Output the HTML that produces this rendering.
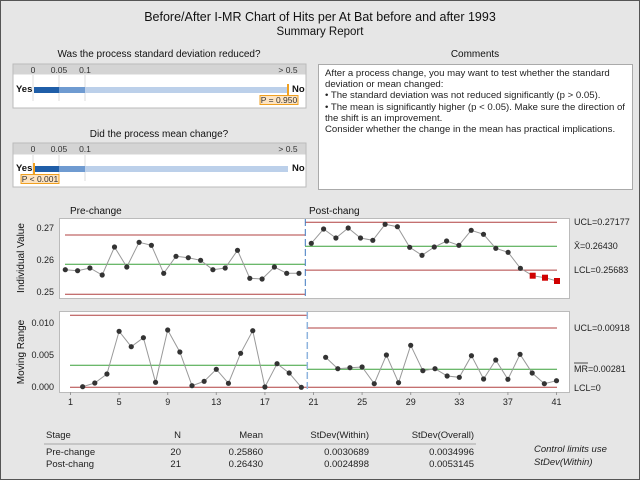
<!DOCTYPE html>
<html><head><meta charset="utf-8"><style>
html,body{margin:0;padding:0;background:#e6e6e6}
svg{display:block;font-family:"Liberation Sans",sans-serif}
</style></head><body>
<svg width="640" height="480" viewBox="0 0 640 480" xmlns="http://www.w3.org/2000/svg">
<rect x="0" y="0" width="640" height="480" fill="#e6e6e6"/>
<rect x="0.5" y="0.5" width="639" height="479" fill="none" stroke="#555" stroke-width="1"/>
<text x="320" y="21" font-size="12.5" text-anchor="middle" fill="#111">Before/After I-MR Chart of Hits per At Bat before and after 1993</text>
<text x="320" y="35" font-size="11.5" text-anchor="middle" fill="#111">Summary Report</text>

<!-- Panel 1 -->
<text x="159" y="57" font-size="10" text-anchor="middle" fill="#111">Was the process standard deviation reduced?</text>
<rect x="13" y="64" width="293" height="44" fill="#fff" stroke="#bbb"/>
<rect x="13.5" y="64.5" width="292" height="10" fill="#d4d4d4"/>
<g font-size="8.5" fill="#333" text-anchor="middle"><text x="33" y="73">0</text><text x="59" y="73">0.05</text><text x="85" y="73">0.1</text><text x="288" y="73">&gt; 0.5</text></g>
<g stroke="#ddd"><line x1="33" y1="75" x2="33" y2="101"/><line x1="59" y1="75" x2="59" y2="101"/><line x1="85" y1="75" x2="85" y2="101"/></g>
<rect x="34" y="87" width="25" height="6" fill="#1f5ea8"/>
<rect x="59" y="87" width="26" height="6" fill="#6f9bd1"/>
<rect x="85" y="87" width="203" height="6" fill="#bcd0ea"/>
<line x1="288" y1="84" x2="288" y2="95" stroke="#f0a020" stroke-width="2"/>
<text x="16" y="92" font-size="9.5" font-weight="bold" fill="#111">Yes</text>
<text x="292" y="92" font-size="9.5" font-weight="bold" fill="#111">No</text>
<rect x="260" y="95.5" width="38" height="9" fill="#fde3c0" stroke="#f0a020"/>
<text x="279" y="103" font-size="8.5" text-anchor="middle" fill="#333">P = 0.950</text>

<!-- Panel 2 -->
<text x="159" y="137" font-size="10" text-anchor="middle" fill="#111">Did the process mean change?</text>
<rect x="13" y="143" width="293" height="44" fill="#fff" stroke="#bbb"/>
<rect x="13.5" y="143.5" width="292" height="11" fill="#d4d4d4"/>
<g font-size="8.5" fill="#333" text-anchor="middle"><text x="33" y="152">0</text><text x="59" y="152">0.05</text><text x="85" y="152">0.1</text><text x="288" y="152">&gt; 0.5</text></g>
<g stroke="#ddd"><line x1="33" y1="155" x2="33" y2="181"/><line x1="59" y1="155" x2="59" y2="181"/><line x1="85" y1="155" x2="85" y2="181"/></g>
<rect x="34" y="166" width="25" height="6" fill="#1f5ea8"/>
<rect x="59" y="166" width="26" height="6" fill="#6f9bd1"/>
<rect x="85" y="166" width="203" height="6" fill="#bcd0ea"/>
<line x1="34" y1="163" x2="34" y2="174" stroke="#f0a020" stroke-width="2"/>
<text x="16" y="171" font-size="9.5" font-weight="bold" fill="#111">Yes</text>
<text x="292" y="171" font-size="9.5" font-weight="bold" fill="#111">No</text>
<rect x="21" y="174.5" width="38" height="9" fill="#fde3c0" stroke="#f0a020"/>
<text x="40" y="182" font-size="8.5" text-anchor="middle" fill="#333">P &lt; 0.001</text>

<!-- Comments -->
<text x="475" y="57" font-size="10" text-anchor="middle" fill="#111">Comments</text>
<rect x="318.5" y="64.5" width="314" height="125" fill="#fff" stroke="#aaa"/>
<g font-size="9.6" fill="#222">
<text x="325" y="76">After a process change, you may want to test whether the standard</text>
<text x="325" y="87">deviation or mean changed:</text>
<text x="325" y="98">•  The standard deviation was not reduced significantly (p &gt; 0.05).</text>
<text x="325" y="110">•  The mean is significantly higher (p &lt; 0.05). Make sure the direction of</text>
<text x="325" y="121">the shift is an improvement.</text>
<text x="325" y="132">Consider whether the change in the mean has practical implications.</text>
</g>

<!-- I chart -->
<text x="70" y="214" font-size="10" fill="#111">Pre-change</text>
<text x="309" y="214" font-size="10" fill="#111">Post-chang</text>
<rect x="59.5" y="218.5" width="510" height="80" fill="#fff" stroke="#bbb"/>
<g font-size="9" fill="#222" text-anchor="end"><text x="54" y="231">0.27</text><text x="54" y="263">0.26</text><text x="54" y="295">0.25</text></g>
<text transform="translate(24,258) rotate(-90)" font-size="10" text-anchor="middle" fill="#111">Individual Value</text>
<g stroke-width="1">
<line x1="65" y1="235" x2="305" y2="235" stroke="#b04040"/>
<line x1="65" y1="264.3" x2="305" y2="264.3" stroke="#3aa03a"/>
<line x1="65" y1="294.3" x2="305" y2="294.3" stroke="#b04040"/>
<line x1="305" y1="222.3" x2="557" y2="222.3" stroke="#b04040"/>
<line x1="305" y1="246.2" x2="557" y2="246.2" stroke="#3aa03a"/>
<line x1="305" y1="270.1" x2="557" y2="270.1" stroke="#b04040"/>
</g>
<line x1="305.3" y1="219" x2="305.3" y2="298" stroke="#3f78c0" stroke-dasharray="7,3"/>
<polyline fill="none" stroke="#999" points="65.3,269.7 77.6,270.7 89.9,268 102.2,275 114.5,247 126.8,267 139.1,242.3 151.4,245.3 163.7,273.3 176,256.3 188.3,257.7 200.6,260.3 212.9,269.7 225.2,268 237.5,250.3 249.8,278.3 262.1,279 274.4,267 286.7,273.3 299,273.3"/>
<polyline fill="none" stroke="#999" points="311.3,243.3 323.6,229 335.9,238 348.2,228 360.5,238 372.8,240.3 385.1,224.3 397.4,226.7 409.7,247.3 422,255.3 434.3,247 446.6,241 458.9,245.3 471.2,230.3 483.5,234.3 495.8,248.3 508.1,252.3 520.4,268.3 532.7,275.7 545,277.7 557,281"/>
<g fill="#333">
<circle cx="65.3" cy="269.7" r="2.6"/><circle cx="77.6" cy="270.7" r="2.6"/><circle cx="89.9" cy="268" r="2.6"/><circle cx="102.2" cy="275" r="2.6"/><circle cx="114.5" cy="247" r="2.6"/><circle cx="126.8" cy="267" r="2.6"/><circle cx="139.1" cy="242.3" r="2.6"/><circle cx="151.4" cy="245.3" r="2.6"/><circle cx="163.7" cy="273.3" r="2.6"/><circle cx="176" cy="256.3" r="2.6"/><circle cx="188.3" cy="257.7" r="2.6"/><circle cx="200.6" cy="260.3" r="2.6"/><circle cx="212.9" cy="269.7" r="2.6"/><circle cx="225.2" cy="268" r="2.6"/><circle cx="237.5" cy="250.3" r="2.6"/><circle cx="249.8" cy="278.3" r="2.6"/><circle cx="262.1" cy="279" r="2.6"/><circle cx="274.4" cy="267" r="2.6"/><circle cx="286.7" cy="273.3" r="2.6"/><circle cx="299" cy="273.3" r="2.6"/>
<circle cx="311.3" cy="243.3" r="2.6"/><circle cx="323.6" cy="229" r="2.6"/><circle cx="335.9" cy="238" r="2.6"/><circle cx="348.2" cy="228" r="2.6"/><circle cx="360.5" cy="238" r="2.6"/><circle cx="372.8" cy="240.3" r="2.6"/><circle cx="385.1" cy="224.3" r="2.6"/><circle cx="397.4" cy="226.7" r="2.6"/><circle cx="409.7" cy="247.3" r="2.6"/><circle cx="422" cy="255.3" r="2.6"/><circle cx="434.3" cy="247" r="2.6"/><circle cx="446.6" cy="241" r="2.6"/><circle cx="458.9" cy="245.3" r="2.6"/><circle cx="471.2" cy="230.3" r="2.6"/><circle cx="483.5" cy="234.3" r="2.6"/><circle cx="495.8" cy="248.3" r="2.6"/><circle cx="508.1" cy="252.3" r="2.6"/><circle cx="520.4" cy="268.3" r="2.6"/>
</g>
<g fill="#d00000"><rect x="529.7" y="272.7" width="6" height="6"/><rect x="542" y="274.7" width="6" height="6"/><rect x="554" y="278" width="6" height="6"/></g>
<g font-size="9" fill="#222"><text x="574" y="225">UCL=0.27177</text><text x="574" y="249">X̄=0.26430</text><text x="574" y="273">LCL=0.25683</text></g>

<!-- MR chart -->
<rect x="59.5" y="311.5" width="510" height="81" fill="#fff" stroke="#bbb"/>
<g font-size="9" fill="#222" text-anchor="end"><text x="54" y="326">0.010</text><text x="54" y="358">0.005</text><text x="54" y="390">0.000</text></g>
<text transform="translate(24,352) rotate(-90)" font-size="10" text-anchor="middle" fill="#111">Moving Range</text>
<line x1="70" y1="315.3" x2="307" y2="315.3" stroke="#b04040"/>
<line x1="70" y1="365.3" x2="307" y2="365.3" stroke="#3aa03a"/>
<line x1="70" y1="387.3" x2="557" y2="387.3" stroke="#b04040"/>
<line x1="307" y1="328" x2="557" y2="328" stroke="#b04040"/>
<line x1="307" y1="369.3" x2="557" y2="369.3" stroke="#3aa03a"/>
<line x1="307.3" y1="312" x2="307.3" y2="392" stroke="#8fb4de" stroke-width="1.5" stroke-dasharray="7,3"/>
<polyline fill="none" stroke="#999" points="82.65,386.7 94.8,383 106.95,374 119.1,331.3 131.25,346.7 143.4,337.7 155.55,382.3 167.7,330 179.85,352 192,385.7 204.15,381.3 216.3,369.3 228.45,383.3 240.6,353.3 252.75,330.7 264.9,387 277.05,363.7 289.2,373 301.35,387.3"/>
<polyline fill="none" stroke="#999" points="325.65,357.3 337.8,368.7 349.95,367.7 362.1,367 374.25,383.7 386.4,355 398.55,382.7 410.7,345.3 422.85,370.7 435,368.7 447.15,376 459.3,377.3 471.45,355.7 483.6,379 495.75,360 507.9,379.3 520.05,354.3 532.2,373 544.35,383.7 556.5,380.7"/>
<g fill="#333">
<circle cx="82.65" cy="386.7" r="2.6"/><circle cx="94.8" cy="383" r="2.6"/><circle cx="106.95" cy="374" r="2.6"/><circle cx="119.1" cy="331.3" r="2.6"/><circle cx="131.25" cy="346.7" r="2.6"/><circle cx="143.4" cy="337.7" r="2.6"/><circle cx="155.55" cy="382.3" r="2.6"/><circle cx="167.7" cy="330" r="2.6"/><circle cx="179.85" cy="352" r="2.6"/><circle cx="192" cy="385.7" r="2.6"/><circle cx="204.15" cy="381.3" r="2.6"/><circle cx="216.3" cy="369.3" r="2.6"/><circle cx="228.45" cy="383.3" r="2.6"/><circle cx="240.6" cy="353.3" r="2.6"/><circle cx="252.75" cy="330.7" r="2.6"/><circle cx="264.9" cy="387" r="2.6"/><circle cx="277.05" cy="363.7" r="2.6"/><circle cx="289.2" cy="373" r="2.6"/><circle cx="301.35" cy="387.3" r="2.6"/>
<circle cx="325.65" cy="357.3" r="2.6"/><circle cx="337.8" cy="368.7" r="2.6"/><circle cx="349.95" cy="367.7" r="2.6"/><circle cx="362.1" cy="367" r="2.6"/><circle cx="374.25" cy="383.7" r="2.6"/><circle cx="386.4" cy="355" r="2.6"/><circle cx="398.55" cy="382.7" r="2.6"/><circle cx="410.7" cy="345.3" r="2.6"/><circle cx="422.85" cy="370.7" r="2.6"/><circle cx="435" cy="368.7" r="2.6"/><circle cx="447.15" cy="376" r="2.6"/><circle cx="459.3" cy="377.3" r="2.6"/><circle cx="471.45" cy="355.7" r="2.6"/><circle cx="483.6" cy="379" r="2.6"/><circle cx="495.75" cy="360" r="2.6"/><circle cx="507.9" cy="379.3" r="2.6"/><circle cx="520.05" cy="354.3" r="2.6"/><circle cx="532.2" cy="373" r="2.6"/><circle cx="544.35" cy="383.7" r="2.6"/><circle cx="556.5" cy="380.7" r="2.6"/>
</g>
<g font-size="9" fill="#222"><text x="574" y="331">UCL=0.00918</text><text x="574" y="372">MR=0.00281</text><text x="574" y="391">LCL=0</text></g>
<line x1="574" y1="363" x2="588" y2="363" stroke="#222" stroke-width="0.8"/>
<g stroke="#999"><line x1="70.5" y1="392" x2="70.5" y2="395"/><line x1="119.1" y1="392" x2="119.1" y2="395"/><line x1="167.7" y1="392" x2="167.7" y2="395"/><line x1="216.3" y1="392" x2="216.3" y2="395"/><line x1="264.9" y1="392" x2="264.9" y2="395"/><line x1="313.5" y1="392" x2="313.5" y2="395"/><line x1="362.1" y1="392" x2="362.1" y2="395"/><line x1="410.7" y1="392" x2="410.7" y2="395"/><line x1="459.3" y1="392" x2="459.3" y2="395"/><line x1="507.9" y1="392" x2="507.9" y2="395"/><line x1="556.5" y1="392" x2="556.5" y2="395"/></g>
<g font-size="9" fill="#222" text-anchor="middle"><text x="70.5" y="405">1</text><text x="119.1" y="405">5</text><text x="167.7" y="405">9</text><text x="216.3" y="405">13</text><text x="264.9" y="405">17</text><text x="313.5" y="405">21</text><text x="362.1" y="405">25</text><text x="410.7" y="405">29</text><text x="459.3" y="405">33</text><text x="507.9" y="405">37</text><text x="556.5" y="405">41</text></g>

<!-- Table -->
<g font-size="9.5" fill="#222">
<text x="46" y="438">Stage</text>
<text x="181" y="438" text-anchor="end">N</text>
<text x="263" y="438" text-anchor="end">Mean</text>
<text x="369" y="438" text-anchor="end">StDev(Within)</text>
<text x="474" y="438" text-anchor="end">StDev(Overall)</text>
<text x="46" y="455">Pre-change</text>
<text x="181" y="455" text-anchor="end">20</text>
<text x="263" y="455" text-anchor="end">0.25860</text>
<text x="369" y="455" text-anchor="end">0.0030689</text>
<text x="474" y="455" text-anchor="end">0.0034996</text>
<text x="46" y="467">Post-chang</text>
<text x="181" y="467" text-anchor="end">21</text>
<text x="263" y="467" text-anchor="end">0.26430</text>
<text x="369" y="467" text-anchor="end">0.0024898</text>
<text x="474" y="467" text-anchor="end">0.0053145</text>
<text x="534" y="452" font-style="italic">Control limits use</text>
<text x="534" y="465" font-style="italic">StDev(Within)</text>
</g>
<line x1="44" y1="444" x2="476" y2="444" stroke="#bbb" stroke-width="1.5"/>
</svg>
</body></html>
